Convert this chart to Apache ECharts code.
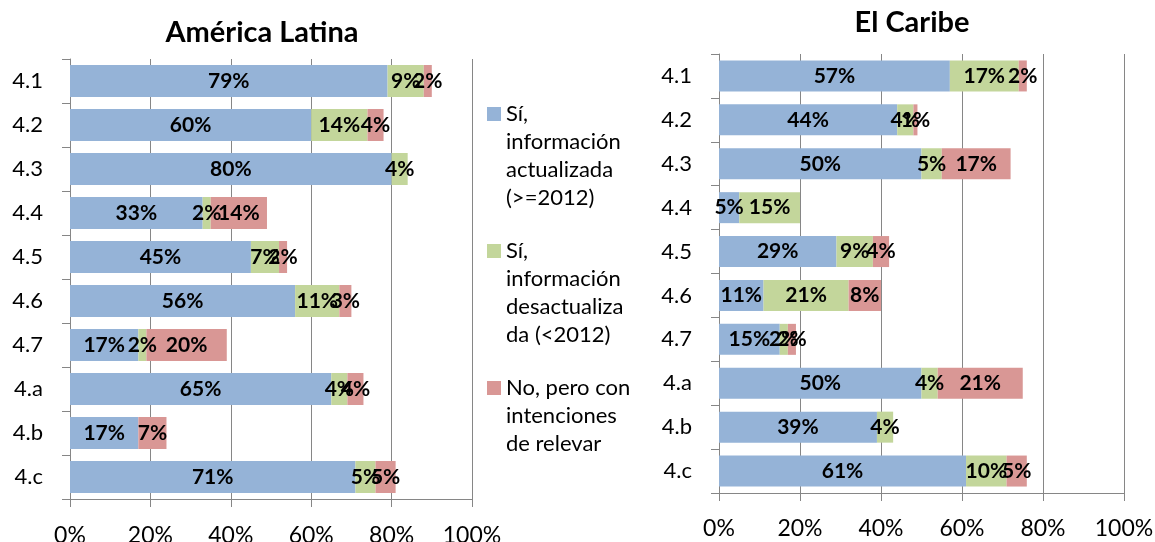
<!DOCTYPE html>
<html>
<head>
<meta charset="utf-8">
<title>América Latina / El Caribe</title>
<script src="https://cdn.jsdelivr.net/npm/echarts@6/dist/echarts.min.js"></script>
<style>
body { margin:0; background:#fff; }
#main { width:1155px; height:542px; }
</style>
</head>
<body>
<div id="main"></div>
<script>
// datos (porcentajes)
var categorias = ['4.1', '4.2', '4.3', '4.4', '4.5', '4.6', '4.7', '4.a', '4.b', '4.c'];
var ticksX = [0, 20, 40, 60, 80, 100];

var latActualizada    = [79, 60, 80, 33, 45, 56, 17, 65, 17, 71];
var latDesactualizada = [9, 14, 4, 2, 7, 11, 2, 4, 0, 5];
var latIntencion      = [2, 4, 0, 14, 2, 3, 20, 4, 7, 5];

var carActualizada    = [57, 44, 50, 5, 29, 11, 15, 50, 39, 61];
var carDesactualizada = [17, 4, 5, 15, 9, 21, 2, 4, 4, 10];
var carIntencion      = [2, 1, 17, 0, 4, 8, 2, 21, 0, 5];

var nombres = ['actualizada', 'desactualizada', 'intencion'];
var leyenda = [
	['Sí,', 'información', 'actualizada', '(>=2012)'],
	['Sí,', 'información', 'desactualiza', 'da (<2012)'],
	['No, pero con', 'intenciones', 'de relevar']
];
var colores = ['#95B3D7', '#C3D69B', '#D99795'];

var fuente = 'Lato, "DejaVu Sans", sans-serif';
var gris = '#868686';

var myChart = echarts.init(document.getElementById('main'));

function etiqueta(p) {
	return p.value > 0 ? p.value + '%' : '';
}

function serie(idx, datos, eje, ancho) {
	return {
		name: nombres[idx],
		type: 'bar',
		stack: 'g' + eje,
		xAxisIndex: eje,
		yAxisIndex: eje,
		barWidth: ancho,
		data: datos,
		itemStyle: { color: colores[idx] },
		label: {
			show: true,
			position: 'inside',
			formatter: etiqueta,
			color: '#000',
			fontFamily: fuente,
			fontWeight: 'bold',
			fontSize: 21
		},
		emphasis: { disabled: true }
	};
}

function ejeX(grid, margen) {
	return {
		type: 'value',
		gridIndex: grid,
		min: ticksX[0],
		max: ticksX[ticksX.length - 1],
		interval: 20,
		axisLine: { show: true, lineStyle: { color: gris } },
		axisTick: { show: true, length: 8, lineStyle: { color: gris } },
		splitLine: { show: true, lineStyle: { color: gris } },
		axisLabel: {
			formatter: '{value}%',
			margin: margen,
			color: '#000',
			fontFamily: fuente,
			fontSize: 23
		}
	};
}

function ejeY(grid) {
	return {
		type: 'category',
		gridIndex: grid,
		inverse: true,
		data: categorias,
		axisLine: { show: true, lineStyle: { color: gris } },
		axisTick: { show: true, length: 8, lineStyle: { color: gris } },
		axisLabel: {
			margin: 27,
			color: '#000',
			fontFamily: fuente,
			fontSize: 22
		}
	};
}

// leyenda con el cuadro alineado a la primera linea
var rich = {
	g: { width: 5 },
	sp: { width: 19 },
	t: { fontFamily: fuente, fontSize: 22, lineHeight: 28, color: '#000' }
};
colores.forEach(function (c, i) {
	rich['b' + i] = { width: 14, height: 14, backgroundColor: c };
});

option = {
	animation: false,
	title: [{
		text: 'América Latina',
		left: 257,
		top: 13,
		textAlign: 'center',
		textStyle: { fontFamily: fuente, fontWeight: 'bold', fontSize: 29, color: '#000' }
	}, {
		text: 'El Caribe',
		left: 907,
		top: 3,
		textAlign: 'center',
		textStyle: { fontFamily: fuente, fontWeight: 'bold', fontSize: 29, color: '#000' }
	}],
	legend: {
		orient: 'vertical',
		left: 482,
		top: 103,
		padding: 0,
		itemGap: 31,
		itemWidth: 0,
		icon: 'none',
		selectedMode: false,
		data: nombres,
		formatter: function (name) {
			var i = nombres.indexOf(name);
			return leyenda[i].map(function (l, k) {
				return (k === 0 ? '{b' + i + '|}{g|}' : '{sp|}') + '{t|' + l + '}';
			}).join('\n');
		},
		textStyle: { rich: rich }
	},
	grid: [
		{ left: 70, top: 59, width: 402, height: 440, outerBoundsMode: 'none' },
		{ left: 719, top: 54, width: 405, height: 439, outerBoundsMode: 'none' }
	],
	xAxis: [ejeX(0, 25), ejeX(1, 24)],
	yAxis: [ejeY(0), ejeY(1)],
	series: [
		serie(0, latActualizada, 0, 32),
		serie(1, latDesactualizada, 0, 32),
		serie(2, latIntencion, 0, 32),
		serie(0, carActualizada, 1, 31),
		serie(1, carDesactualizada, 1, 31),
		serie(2, carIntencion, 1, 31)
	]
};
myChart.setOption(option);
</script>
</body>
</html>
